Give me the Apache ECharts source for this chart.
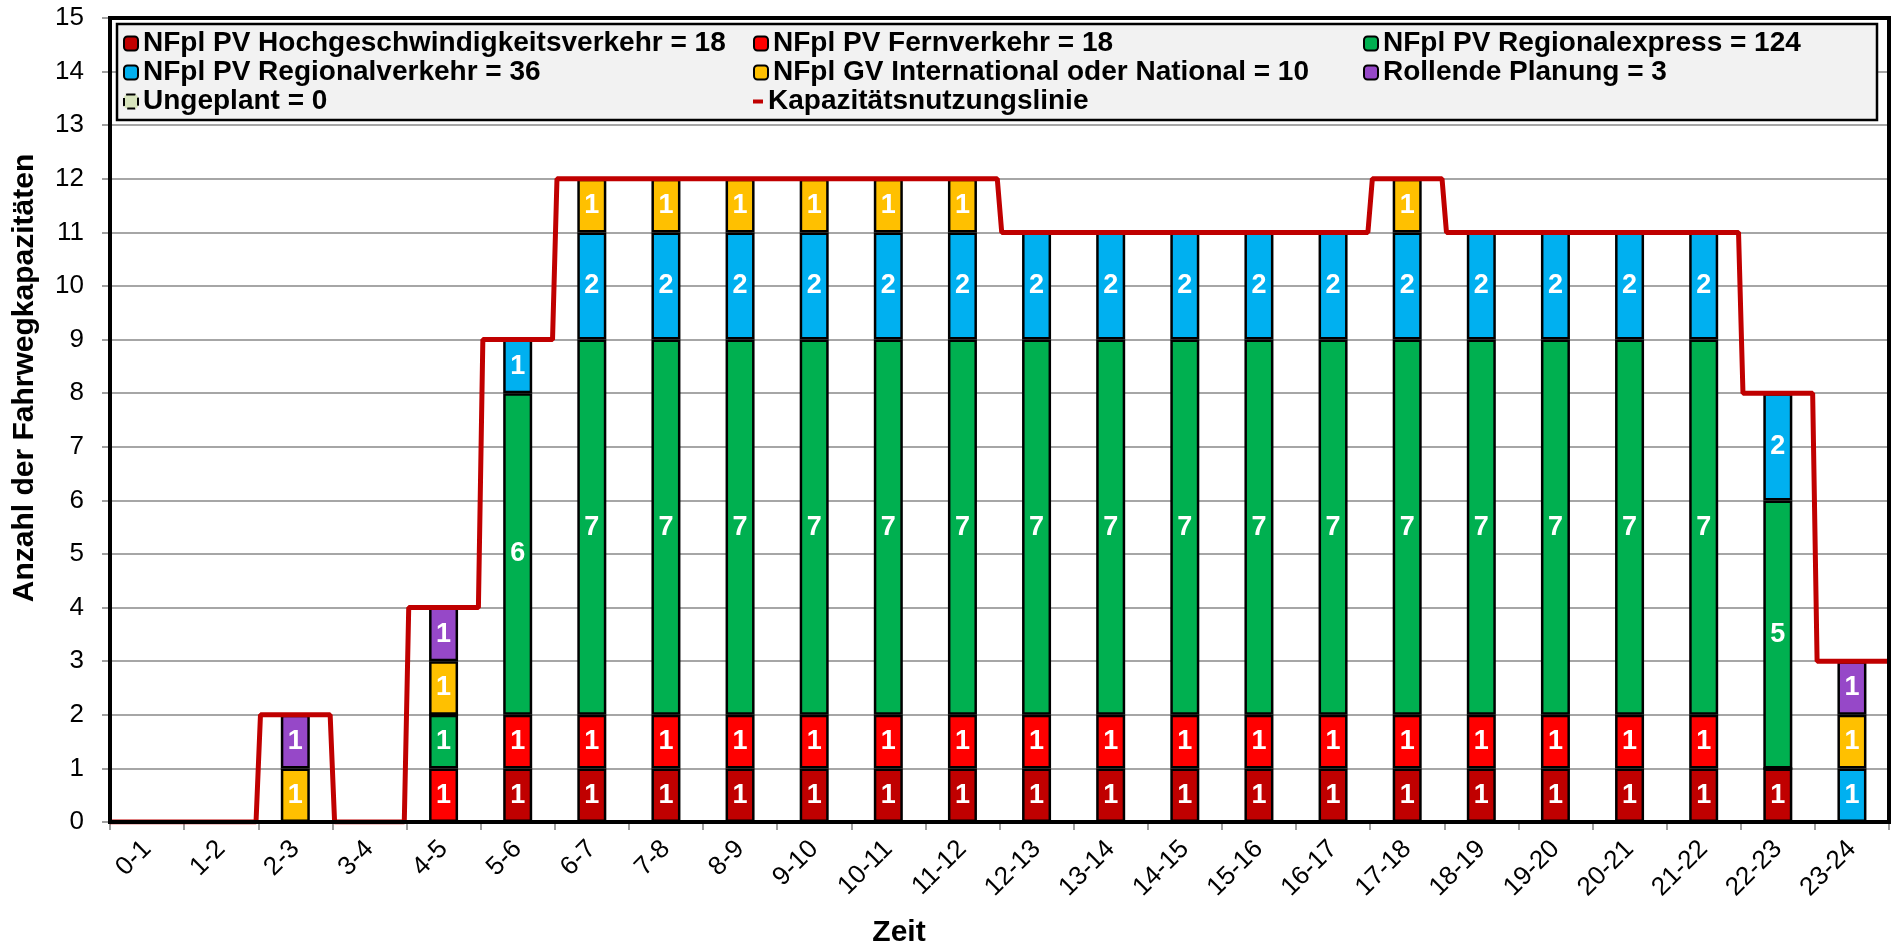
<!DOCTYPE html>
<html lang="de">
<head>
    <meta charset="utf-8">
    <title>Fahrwegkapazitäten</title>
    <script src="https://cdn.jsdelivr.net/npm/echarts@6/dist/echarts.min.js"></script>
    <style>
        html, body { margin: 0; padding: 0; background: #fff; }
        #chart { width: 1895px; height: 949px; }
    </style>
</head>
<body>
<div id="chart"></div>

<script>
    // Stunden
    var hours = ['0-1','1-2','2-3','3-4','4-5','5-6','6-7','7-8','8-9','9-10','10-11','11-12',
                 '12-13','13-14','14-15','15-16','16-17','17-18','18-19','19-20','20-21','21-22','22-23','23-24'];

    // Werte je Stunde
    var hochgeschw = [0,0,0,0,0,1,1,1,1,1,1,1,1,1,1,1,1,1,1,1,1,1,1,0];
    var fernverkehr = [0,0,0,0,1,1,1,1,1,1,1,1,1,1,1,1,1,1,1,1,1,1,0,0];
    var regionalexpress = [0,0,0,0,1,6,7,7,7,7,7,7,7,7,7,7,7,7,7,7,7,7,5,0];
    var regionalverkehr = [0,0,0,0,0,1,2,2,2,2,2,2,2,2,2,2,2,2,2,2,2,2,2,1];
    var gvVerkehr = [0,0,1,0,1,0,1,1,1,1,1,1,0,0,0,0,0,1,0,0,0,0,0,1];
    var rollende = [0,0,1,0,1,0,0,0,0,0,0,0,0,0,0,0,0,0,0,0,0,0,0,1];
    var ungeplant = [0,0,0,0,0,0,0,0,0,0,0,0,0,0,0,0,0,0,0,0,0,0,0,0];
    var kapazitaet = [0,0,2,0,4,9,12,12,12,12,12,12,11,11,11,11,11,12,11,11,11,11,8,3];

    var names = [
        'NFpl PV Hochgeschwindigkeitsverkehr = 18',
        'NFpl PV Fernverkehr = 18',
        'NFpl PV Regionalexpress = 124',
        'NFpl PV Regionalverkehr = 36',
        'NFpl GV International oder National = 10',
        'Rollende Planung = 3',
        'Ungeplant = 0',
        'Kapazitätsnutzungslinie'
    ];
    var colors = ['#C00000','#FF0000','#00B050','#00B0F0','#FFC000','#9648C8','#D7E4BD'];
    var stacks = [hochgeschw, fernverkehr, regionalexpress, regionalverkehr, gvVerkehr, rollende, ungeplant];

    var FONT = '"Liberation Sans", Arial, sans-serif';

    // Treppenlinie über alle Stunden
    var linePts = [];
    kapazitaet.forEach(function (v, i) {
        linePts.push([i === 0 ? 0 : i + 0.03, v]);
        linePts.push([i === 23 ? 24 : i + 0.97, v]);
    });

    var barSeries = stacks.map(function (arr, k) {
        return {
            name: names[k],
            type: 'bar',
            stack: 'total',
            barWidth: 29,
            data: arr,
            itemStyle: {
                color: colors[k],
                borderColor: '#000',
                borderWidth: 2.5,
                borderType: k === 6 ? 'dashed' : 'solid'
            },
            label: {
                show: true,
                position: 'inside',
                color: '#fff',
                fontWeight: 'bold',
                fontSize: 27,
                fontFamily: FONT,
                formatter: function (p) { return p.value > 0 ? p.value : ''; }
            }
        };
    });

    var legendBase = {
        orient: 'vertical',
        top: 29,
        padding: 0,
        itemWidth: 14,
        itemHeight: 14,
        itemGap: 0,
        selectedMode: false,
        itemStyle: { borderColor: '#000', borderWidth: 2 },
        textStyle: { fontSize: 28, lineHeight: 29, fontWeight: 'bold', color: '#000', fontFamily: FONT }
    };

    var chart = echarts.init(document.getElementById('chart'));
    chart.setOption({
        animation: false,
        textStyle: { fontFamily: FONT },
        grid: { left: 110, right: 6, top: 18, bottom: 127 },
        graphic: [
            { type: 'rect', z: 1, shape: { x: 117, y: 24, width: 1760, height: 96 },
              style: { fill: '#F2F2F2', stroke: '#000', lineWidth: 2.5 } },
            { type: 'rect', z: 100, shape: { x: 110, y: 18, width: 1779, height: 804 },
              style: { fill: null, stroke: '#000', lineWidth: 4 } },
            { type: 'text', x: 25, y: 378, rotation: Math.PI / 2,
              style: { text: 'Anzahl der Fahrwegkapazitäten', fill: '#000', font: 'bold 30px ' + FONT, align: 'center', verticalAlign: 'middle' } },
            { type: 'text', x: 899, y: 933,
              style: { text: 'Zeit', fill: '#000', font: 'bold 30px ' + FONT, align: 'center', verticalAlign: 'middle' } }
        ],
        legend: [
            Object.assign({}, legendBase, { left: 123, data: [names[0], names[3], { name: names[6], itemStyle: { borderType: 'dashed' } }] }),
            Object.assign({}, legendBase, { left: 753, data: [names[1], names[4]] }),
            Object.assign({}, legendBase, { left: 1363, data: [names[2], names[5]] }),
            Object.assign({}, legendBase, { left: 753, top: 87, itemWidth: 10, itemHeight: 4,
                data: [{ name: names[7], icon: 'rect', itemStyle: { color: '#C00000', borderWidth: 0 } }] })
        ],
        xAxis: [
            {
                type: 'category',
                data: hours,
                axisLine: { lineStyle: { color: '#000', width: 4 } },
                axisTick: { show: true, length: 8, lineStyle: { color: '#808080', width: 1.5 } },
                axisLabel: { rotate: 45, fontSize: 26, color: '#000', margin: 23 },
                splitLine: { show: false }
            },
            { type: 'value', min: 0, max: 24, show: false }
        ],
        yAxis: {
            type: 'value',
            min: 0,
            max: 15,
            interval: 1,
            axisLine: { show: true, lineStyle: { color: '#000', width: 4 } },
            axisTick: { show: true, length: 8, lineStyle: { color: '#808080', width: 1.5 } },
            axisLabel: { fontSize: 26, color: '#000', margin: 26 },
            splitLine: { lineStyle: { color: '#A6A6A6', width: 2 } }
        },
        series: barSeries.concat([{
            name: names[7],
            type: 'line',
            xAxisIndex: 1,
            data: linePts,
            showSymbol: false,
            z: 5,
            lineStyle: { color: '#C00000', width: 5 },
            itemStyle: { color: '#C00000' }
        }])
    });
</script>
</body>
</html>
